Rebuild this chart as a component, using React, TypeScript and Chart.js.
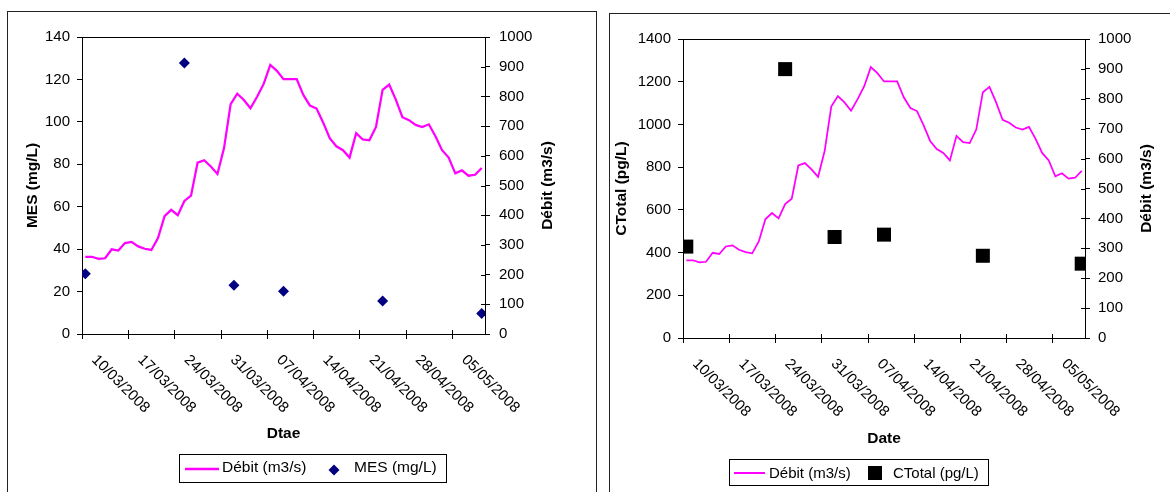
import React, { useEffect, useRef } from 'react';
import { Chart, registerables } from 'chart.js';

Chart.register(...registerables);

const FONT = "'Liberation Sans', Arial, Helvetica, sans-serif";

// ---- data ----
const startDate = '10/03/2008';
const weekLabels = [
  '10/03/2008', '17/03/2008', '24/03/2008', '31/03/2008', '07/04/2008',
  '14/04/2008', '21/04/2008', '28/04/2008', '05/05/2008',
];
// daily discharge (m3/s), 10/03/2008 .. 09/05/2008
const debit = [
  260, 260, 253, 255, 285, 281, 306, 310, 295, 287,
  283, 323, 397, 418, 400, 448, 466, 577, 585, 564,
  539, 626, 774, 809, 788, 760, 799, 842, 906, 886,
  858, 858, 858, 805, 769, 759, 712, 659, 632, 619,
  594, 676, 655, 652, 697, 822, 840, 789, 730, 720,
  704, 697, 706, 666, 619, 594, 541, 551, 533, 536,
  559,
];
const sampleDates = [
  '10/03/2008', '25/03/2008', '01/04/2008 12:00', '09/04/2008', '24/04/2008', '09/05/2008',
];
const mesValues = [28.4, 127.7, 23, 20.2, 15.5, 9.7];
const ctotalValues = [428, 1259, 473, 484, 385, 348];

function parseDay(s: string): number {
  const [d, t] = s.split(' ');
  const [dd, mm, yy] = d.split('/').map(Number);
  let h = 0, mi = 0;
  if (t) { const p = t.split(':').map(Number); h = p[0]; mi = p[1]; }
  return Date.UTC(yy, mm - 1, dd, h, mi) / 86400000;
}
function dayOffset(s: string): number {
  return parseDay(s) - parseDay(startDate);
}

type P = {
  padL: number; padR: number; padT: number; yW: number; y1W: number; xH: number;
  yMax: number; yStep: number; yPad: number; y1Pad: number;
  lineW: number;
  sLabel: string; sValues: number[]; pointStyle: string; pointRadius: number; pointColor: string;
  yTitle: string; yTitleX: number; y1TitleX: number; xTitle: string; xTitleY: number;
  titleSize: number;
  leg: {
    box: [number, number, number, number]; lx1: number; lx2: number; ly: number; lw: number;
    t1x: number; mx: number; my: number; t2x: number; ty: number; size: number;
  };
};

function decor(p: P) {
  return {
    id: 'decor',
    afterDraw(chart: any) {
      const ctx = chart.ctx as CanvasRenderingContext2D;
      const ca = chart.chartArea;
      const xs = chart.scales.x;
      const ys1 = chart.scales.y1;
      ctx.save();
      ctx.strokeStyle = '#000';
      ctx.lineWidth = 1;
      ctx.beginPath();
      const top = Math.round(ca.top) + 0.5;
      ctx.moveTo(ca.left, top);
      ctx.lineTo(ca.right, top);
      for (const t of ys1.ticks) {
        const py = Math.round(ys1.getPixelForValue(t.value)) + 0.5;
        ctx.moveTo(ca.right - 4, py);
        ctx.lineTo(ca.right, py);
      }
      const by = ca.bottom;
      weekLabels.forEach((_, k) => {
        const px = Math.round(xs.getPixelForValue(k * 7 - 0.5)) + 0.5;
        ctx.moveTo(px, by - 4);
        ctx.lineTo(px, by + 5);
      });
      ctx.stroke();

      // rotated date labels
      ctx.fillStyle = '#000';
      ctx.font = `15px ${FONT}`;
      ctx.textAlign = 'left';
      ctx.textBaseline = 'middle';
      weekLabels.forEach((lab, k) => {
        const px = xs.getPixelForValue(k * 7 - 0.5);
        ctx.save();
        ctx.translate(px + 12, by + 23.5);
        ctx.rotate(Math.PI / 4);
        ctx.fillText(lab, 0, 0);
        ctx.restore();
      });

      // axis titles
      ctx.font = `bold ${p.titleSize}px ${FONT}`;
      ctx.textAlign = 'center';
      const cy = (ca.top + ca.bottom) / 2;
      const vt: [string, number][] = [[p.yTitle, p.yTitleX], ['Débit (m3/s)', p.y1TitleX]];
      vt.forEach(([t, x]) => {
        ctx.save();
        ctx.translate(x, cy);
        ctx.rotate(-Math.PI / 2);
        ctx.fillText(t, 0, 0);
        ctx.restore();
      });
      ctx.fillText(p.xTitle, (ca.left + ca.right) / 2, p.xTitleY);

      // legend
      const L = p.leg;
      ctx.strokeStyle = '#000';
      ctx.lineWidth = 1;
      ctx.strokeRect(L.box[0] + 0.5, L.box[1] + 0.5, L.box[2], L.box[3]);
      ctx.strokeStyle = '#FF00FF';
      ctx.lineWidth = L.lw;
      ctx.beginPath();
      ctx.moveTo(L.lx1, L.ly);
      ctx.lineTo(L.lx2, L.ly);
      ctx.stroke();
      ctx.fillStyle = p.pointColor;
      ctx.beginPath();
      if (p.pointStyle === 'rectRot') {
        const r = p.pointRadius;
        ctx.moveTo(L.mx - r, L.my);
        ctx.lineTo(L.mx, L.my - r);
        ctx.lineTo(L.mx + r, L.my);
        ctx.lineTo(L.mx, L.my + r);
        ctx.closePath();
        ctx.fill();
      } else {
        const s = p.pointRadius * Math.SQRT1_2;
        ctx.fillRect(L.mx - s, L.my - s, 2 * s, 2 * s);
      }
      ctx.fillStyle = '#000';
      ctx.font = `${L.size}px ${FONT}`;
      ctx.textAlign = 'left';
      ctx.textBaseline = 'middle';
      ctx.fillText('Débit (m3/s)', L.t1x, L.ty);
      ctx.fillText(p.sLabel, L.t2x, L.ty);
      ctx.restore();
    },
  };
}

function buildConfig(p: P): any {
  const tickFont = { family: FONT, size: 15 };
  const plain = (v: any) => String(v);
  return {
    type: 'line',
    data: {
      datasets: [
        {
          label: p.sLabel,
          data: sampleDates.map((d, i) => ({ x: dayOffset(d), y: p.sValues[i] })),
          yAxisID: 'y',
          showLine: false,
          pointStyle: p.pointStyle,
          pointRadius: p.pointRadius,
          pointHoverRadius: p.pointRadius,
          backgroundColor: p.pointColor,
          borderColor: p.pointColor,
          pointBorderWidth: 0,
          order: 1,
        },
        {
          label: 'Débit (m3/s)',
          data: debit.map((v, i) => ({ x: i, y: v })),
          yAxisID: 'y1',
          borderColor: '#FF00FF',
          borderWidth: p.lineW,
          pointRadius: 0,
          pointHoverRadius: 0,
          tension: 0,
          fill: false,
          order: 2,
        },
      ],
    },
    options: {
      animation: false,
      responsive: false,
      maintainAspectRatio: false,
      events: [],
      layout: { padding: { left: p.padL, right: p.padR, top: p.padT, bottom: 0 } },
      plugins: { legend: { display: false }, tooltip: { enabled: false }, title: { display: false } },
      scales: {
        x: {
          type: 'linear',
          min: -0.5,
          max: debit.length - 0.5,
          ticks: { display: false },
          grid: { display: false },
          border: { display: true, color: '#000', width: 1 },
          afterFit: (s: any) => { s.height = p.xH; },
        },
        y: {
          type: 'linear',
          position: 'left',
          min: 0,
          max: p.yMax,
          ticks: { stepSize: p.yStep, font: tickFont, color: '#000', padding: p.yPad, callback: plain },
          grid: { drawOnChartArea: false, tickLength: 5, color: '#000' },
          border: { color: '#000', width: 1 },
          afterFit: (s: any) => { s.width = p.yW; },
        },
        y1: {
          type: 'linear',
          position: 'right',
          min: 0,
          max: 1000,
          ticks: { stepSize: 100, font: tickFont, color: '#000', padding: p.y1Pad, callback: plain },
          grid: { drawOnChartArea: false, tickLength: 5, color: '#000' },
          border: { color: '#000', width: 1 },
          afterFit: (s: any) => { s.width = p.y1W; },
        },
      },
    },
    plugins: [decor(p)],
  };
}

const leftP: P = {
  padL: 20, yW: 62, padR: 625, y1W: 60, padT: 37, xH: 158,
  yMax: 140, yStep: 20, yPad: 7, y1Pad: 9,
  lineW: 2.25,
  sLabel: 'MES (mg/L)', sValues: mesValues, pointStyle: 'rectRot', pointRadius: 5.5, pointColor: '#000080',
  yTitle: 'MES (mg/L)', yTitleX: 33, y1TitleX: 548, xTitle: 'Dtae', xTitleY: 434, titleSize: 15.5,
  leg: { box: [179, 454, 267, 28], lx1: 185, lx2: 219, ly: 469, lw: 2.5, t1x: 222, mx: 334, my: 470, t2x: 354, ty: 468, size: 15.5 },
};

const rightP: P = {
  padL: 620, yW: 63, padR: 25, y1W: 60, padT: 39, xH: 154,
  yMax: 1400, yStep: 200, yPad: 7, y1Pad: 8,
  lineW: 1.75,
  sLabel: 'CTotal (pg/L)', sValues: ctotalValues, pointStyle: 'rect', pointRadius: 9.9, pointColor: '#000000',
  yTitle: 'CTotal (pg/L)', yTitleX: 622, y1TitleX: 1147, xTitle: 'Date', xTitleY: 439, titleSize: 15.5,
  leg: { box: [729, 459, 259, 26], lx1: 734, lx2: 765, ly: 473, lw: 2, t1x: 769, mx: 875, my: 473, t2x: 893, ty: 473.5, size: 15 },
};

export default function App() {
  const c1 = useRef<HTMLCanvasElement>(null);
  const c2 = useRef<HTMLCanvasElement>(null);
  useEffect(() => {
    const a = new Chart(c1.current as HTMLCanvasElement, buildConfig(leftP));
    const b = new Chart(c2.current as HTMLCanvasElement, buildConfig(rightP));
    return () => { a.destroy(); b.destroy(); };
  }, []);
  const canvasStyle: React.CSSProperties = { position: 'absolute', left: 0, top: 0, width: 1170, height: 492 };
  return (
    <div style={{ position: 'fixed', left: 0, top: 0, width: 1170, height: 492, background: '#fff', overflow: 'hidden' }}>
      <div style={{ position: 'absolute', left: 7, top: 11, width: 590, height: 500, border: '1px solid #222', boxSizing: 'border-box' }} />
      <div style={{ position: 'absolute', left: 609, top: 13, width: 600, height: 500, border: '1px solid #222', boxSizing: 'border-box' }} />
      <canvas ref={c1} width={1170} height={492} style={canvasStyle} />
      <canvas ref={c2} width={1170} height={492} style={canvasStyle} />
    </div>
  );
}
